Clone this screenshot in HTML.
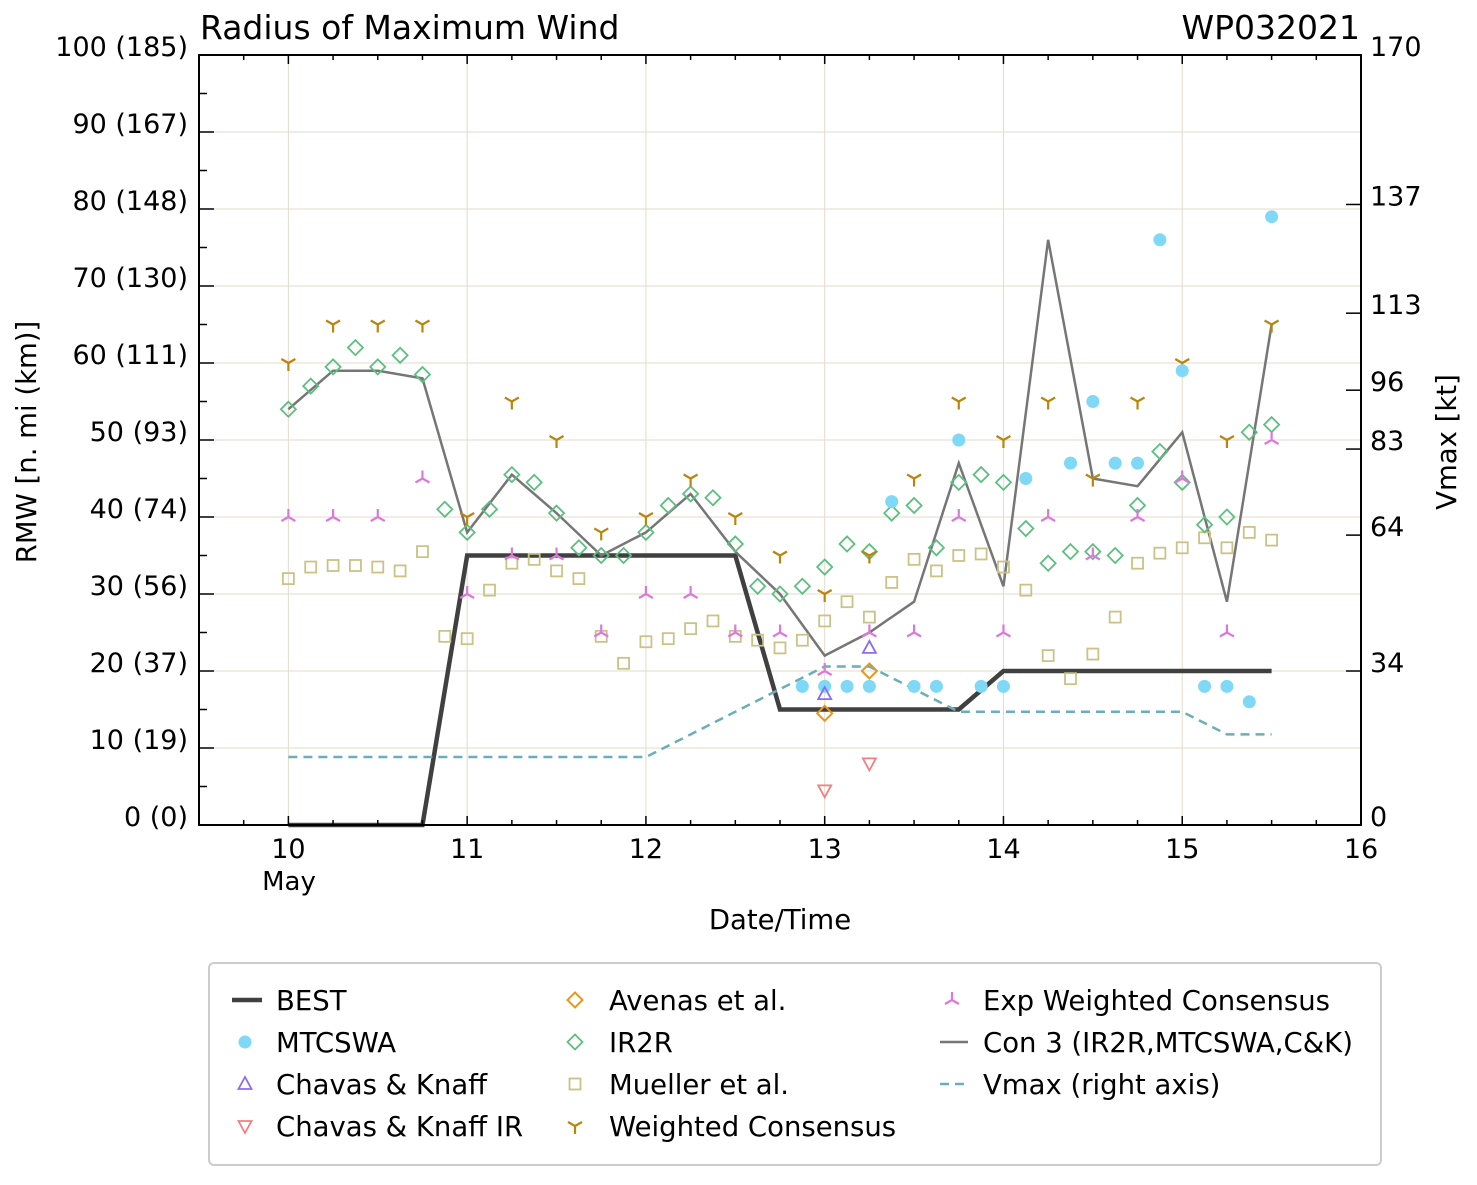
<!DOCTYPE html>
<html><head><meta charset="utf-8"><style>
body{margin:0;background:#fff}
svg text{font-family:"DejaVu Sans","Liberation Sans",sans-serif;fill:#000}
</style></head><body>
<svg id="c" width="1477" height="1180" xmlns="http://www.w3.org/2000/svg"></svg>
<script>
const bestT=[10,10.75,11,12.5,12.75,13.75,14,15.5];
const bestV=[0,0,35,35,15,15,20,20];
const vmaxT=[10,12,13,13.25,13.75,15,15.25,15.5];
const vmaxV=[15,15,35,35,25,25,20,20];
const mtcT=[12.875,13,13.125,13.25,13.375,13.5,13.625,13.75,13.875,14,14.125,14.375,14.5,14.625,14.75,14.875,15,15.125,15.25,15.375,15.5];
const mtcV=[18,18,18,18,42,18,18,50,18,18,45,47,55,47,47,76,59,18,18,16,79];
const ckT=[13,13.25];const ckV=[17,23];
const ckirT=[13,13.25];const ckirV=[4.5,8];
const avT=[13,13.25];const avV=[14.5,20];
const irT=[10,10.125,10.25,10.375,10.5,10.625,10.75,10.875,11,11.125,11.25,11.375,11.5,11.625,11.75,11.875,12,12.125,12.25,12.375,12.5,12.625,12.75,12.875,13,13.125,13.25,13.375,13.5,13.625,13.75,13.875,14,14.125,14.25,14.375,14.5,14.625,14.75,14.875,15,15.125,15.25,15.375,15.5];
const irV=[54,57,59.5,62,59.5,61,58.5,41,38,41,45.5,44.5,40.5,36,35,35,38,41.5,43,42.5,36.5,31,30,31,33.5,36.5,35.5,40.5,41.5,36,44.5,45.5,44.5,38.5,34,35.5,35.5,35,41.5,48.5,44.5,39,40,51,52];
const muT=irT;
const muV=[32,33.5,33.7,33.7,33.5,33,35.5,24.5,24.2,30.5,34,34.5,33,32,24.5,21,23.8,24.2,25.5,26.5,24.5,24,23,24,26.5,29,27,31.5,34.5,33,35,35.2,33.5,30.5,22,19,22.2,27,34,35.3,36,37.3,36,38,37];
const wcT=[10,10.25,10.5,10.75,11,11.25,11.5,11.75,12,12.25,12.5,12.75,13,13.25,13.5,13.75,14,14.25,14.5,14.75,15,15.25,15.5];
const wcV=[60,65,65,65,40,55,50,38,40,45,40,35,30,35,45,55,50,55,45,55,60,50,65];
const ewV=[40,40,40,45,30,35,35,25,30,30,25,25,20,25,25,40,25,40,35,40,45,25,50];
const c3V=[54,59,59,58,38,45.5,40.5,35,38,43,35.5,30,22,25,29,47,31,76,45,44,51,29,65];
const yTicks=[0,10,20,30,40,50,60,70,80,90,100];
const yLabels=["0 (0)","10 (19)","20 (37)","30 (56)","40 (74)","50 (93)","60 (111)","70 (130)","80 (148)","90 (167)","100 (185)"];
const rTicks=[0,34,64,83,96,113,137,170];
const xTicks=[10,11,12,13,14,15,16];

const X0=199,X1=1361,Y0=825,Y1=55;
const sx=t=>X0+(t-9.5)/6.5*(X1-X0);
const sy=v=>Y0-v/100*(Y0-Y1);
const sr=v=>Y0-v/170*(Y0-Y1);
const svg=document.getElementById('c');
const NS='http://www.w3.org/2000/svg';
function mk(tag,at,par){const e=document.createElementNS(NS,tag);for(const k in at)e.setAttribute(k,at[k]);(par||svg).appendChild(e);return e;}
function txt(s,x,y,size,anchor){const e=mk('text',{x:x,y:y,'font-size':size,'text-anchor':anchor||'start'});e.textContent=s;return e;}

xTicks.forEach(t=>{const l=mk('line',{x1:sx(t),x2:sx(t),y1:Y1,y2:Y0,stroke:'#e3dbcc','stroke-width':1});

});
yTicks.forEach(v=>{const l=mk('line',{x1:X0,x2:X1,y1:sy(v),y2:sy(v),stroke:'#e3dbcc','stroke-width':1});

});

function poly(T,V,f,st,name){const p=mk('polyline',Object.assign({points:T.map((t,i)=>sx(t)+','+f(V[i])).join(' '),fill:'none'},st));

}
poly(bestT,bestV,sy,{stroke:'#404040','stroke-width':4.5},'best-line');
poly(vmaxT,vmaxV,sr,{stroke:'#6aaeb8','stroke-width':2.5,'stroke-dasharray':'9,6'},'vmax-line');
poly(wcT,c3V,sy,{stroke:'#767676','stroke-width':2.5},'con3-line');

function marker(type,x,y,g){
 if(type==='circle')mk('circle',{cx:x,cy:y,r:6.5,fill:'#7fd8f6'},g);
 else if(type==='up')mk('polygon',{points:`${x},${y-7} ${x-6.5},${y+5} ${x+6.5},${y+5}`,fill:'none',stroke:'#8b6cf0','stroke-width':1.8},g);
 else if(type==='down')mk('polygon',{points:`${x},${y+7} ${x-6.5},${y-5} ${x+6.5},${y-5}`,fill:'none',stroke:'#f08080','stroke-width':1.8},g);
 else if(type==='avd')mk('polygon',{points:`${x},${y-7.5} ${x+7.5},${y} ${x},${y+7.5} ${x-7.5},${y}`,fill:'none',stroke:'#e49820','stroke-width':2},g);
 else if(type==='ird')mk('polygon',{points:`${x},${y-7.5} ${x+7.5},${y} ${x},${y+7.5} ${x-7.5},${y}`,fill:'none',stroke:'#5cbf80','stroke-width':1.8},g);
 else if(type==='sq')mk('rect',{x:x-5.5,y:y-5.5,width:11,height:11,fill:'none',stroke:'#cbc286','stroke-width':1.8},g);
 else if(type==='tdown'){mk('path',{d:`M${x},${y} V${y+8} M${x},${y} L${x-7},${y-4} M${x},${y} L${x+7},${y-4}`,stroke:'#b8860b','stroke-width':2.2,fill:'none'},g);}
 else if(type==='tup'){mk('path',{d:`M${x},${y} V${y-8} M${x},${y} L${x-7},${y+4} M${x},${y} L${x+7},${y+4}`,stroke:'#dd77dd','stroke-width':2.2,fill:'none'},g);}
}
function series(T,V,type,name){const g=mk('g',{});


T.forEach((t,i)=>marker(type,sx(t),sy(V[i]),g));}
series(muT,muV,'sq','mueller-points');
series(irT,irV,'ird','ir2r-points');
series(wcT,wcV,'tdown','weighted-consensus-points');
series(wcT,ewV,'tup','exp-weighted-consensus-points');
series(mtcT,mtcV,'circle','mtcswa-points');
series(ckT,ckV,'up','chavas-knaff-points');
series(ckirT,ckirV,'down','chavas-knaff-ir-points');
series(avT,avV,'avd','avenas-points');

mk('rect',{x:X0,y:Y1,width:X1-X0,height:Y0-Y1,fill:'none',stroke:'#000','stroke-width':2});
for(let t=9.5;t<=16.001;t+=0.25){const maj=Math.abs(t-Math.round(t))<1e-6;const L=maj?9:5;
 mk('line',{x1:sx(t),x2:sx(t),y1:Y0,y2:Y0-L,stroke:'#000','stroke-width':1.5});
 mk('line',{x1:sx(t),x2:sx(t),y1:Y1,y2:Y1+L,stroke:'#000','stroke-width':1.5});}
for(let v=0;v<=100;v+=5){const L=v%10===0?15:8;mk('line',{x1:X0,x2:X0+L,y1:sy(v),y2:sy(v),stroke:'#000','stroke-width':1.5});}
rTicks.forEach(v=>{mk('line',{x1:X1,x2:X1-15,y1:sr(v),y2:sr(v),stroke:'#000','stroke-width':1.5});
 const e=txt(String(v),1370,sr(v)+1,27);});
yTicks.forEach((v,i)=>{const e=txt(yLabels[i],188,sy(v)+1,27,'end');});
xTicks.forEach(t=>{const e=txt(String(t),sx(t),858,27,'middle');});
</script>
<svg style="position:absolute;left:0;top:0" width="1477" height="1180" xmlns="http://www.w3.org/2000/svg">
<text x="289" y="890" font-size="26" text-anchor="middle">May</text>
<text x="780" y="929" font-size="27.5" text-anchor="middle">Date/Time</text>
<text x="200" y="39" font-size="33">Radius of Maximum Wind</text>
<text x="1360" y="39" font-size="33" text-anchor="end">WP032021</text>
<text transform="translate(36,442) rotate(-90)" font-size="27.5" text-anchor="middle">RMW [n. mi (km)]</text>
<text transform="translate(1456,442) rotate(-90)" font-size="27.5" text-anchor="middle">Vmax [kt]</text>
<g font-size="27.5">
<rect x="209" y="963" width="1172" height="202" rx="5" fill="#fff" stroke="#ccc" stroke-width="2"/>
<line x1="232" y1="1000" x2="262" y2="1000" stroke="#404040" stroke-width="4.5"/><text x="276" y="1010">BEST</text>
<circle cx="245" cy="1042" r="6.5" fill="#7fd8f6"/><text x="276" y="1052">MTCSWA</text>
<polygon points="245,1077 238.5,1089 251.5,1089" fill="none" stroke="#8b6cf0" stroke-width="1.8"/><text x="276" y="1094">Chavas &amp; Knaff</text>
<polygon points="245,1133 238.5,1121 251.5,1121" fill="none" stroke="#f08080" stroke-width="1.8"/><text x="276" y="1136">Chavas &amp; Knaff IR</text>
<polygon points="575,992.5 582.5,1000 575,1007.5 567.5,1000" fill="none" stroke="#e49820" stroke-width="2"/><text x="609" y="1010">Avenas et al.</text>
<polygon points="575,1034.5 582.5,1042 575,1049.5 567.5,1042" fill="none" stroke="#5cbf80" stroke-width="1.8"/><text x="609" y="1052">IR2R</text>
<rect x="569.5" y="1078.5" width="11" height="11" fill="none" stroke="#cbc286" stroke-width="1.8"/><text x="609" y="1094">Mueller et al.</text>
<path d="M575,1126 V1134 M575,1126 L568,1122 M575,1126 L582,1122" stroke="#b8860b" stroke-width="2.2" fill="none"/><text x="609" y="1136">Weighted Consensus</text>
<path d="M952,1000 V992 M952,1000 L945,1004 M952,1000 L959,1004" stroke="#dd77dd" stroke-width="2.2" fill="none"/><text x="983" y="1010">Exp Weighted Consensus</text>
<line x1="940" y1="1042" x2="968" y2="1042" stroke="#767676" stroke-width="2.5"/><text x="983" y="1052">Con 3 (IR2R,MTCSWA,C&amp;K)</text>
<line x1="940" y1="1084" x2="968" y2="1084" stroke="#6aaeb8" stroke-width="2.5" stroke-dasharray="9,6"/><text x="983" y="1094">Vmax (right axis)</text>
</g>
</svg>
</body></html>
